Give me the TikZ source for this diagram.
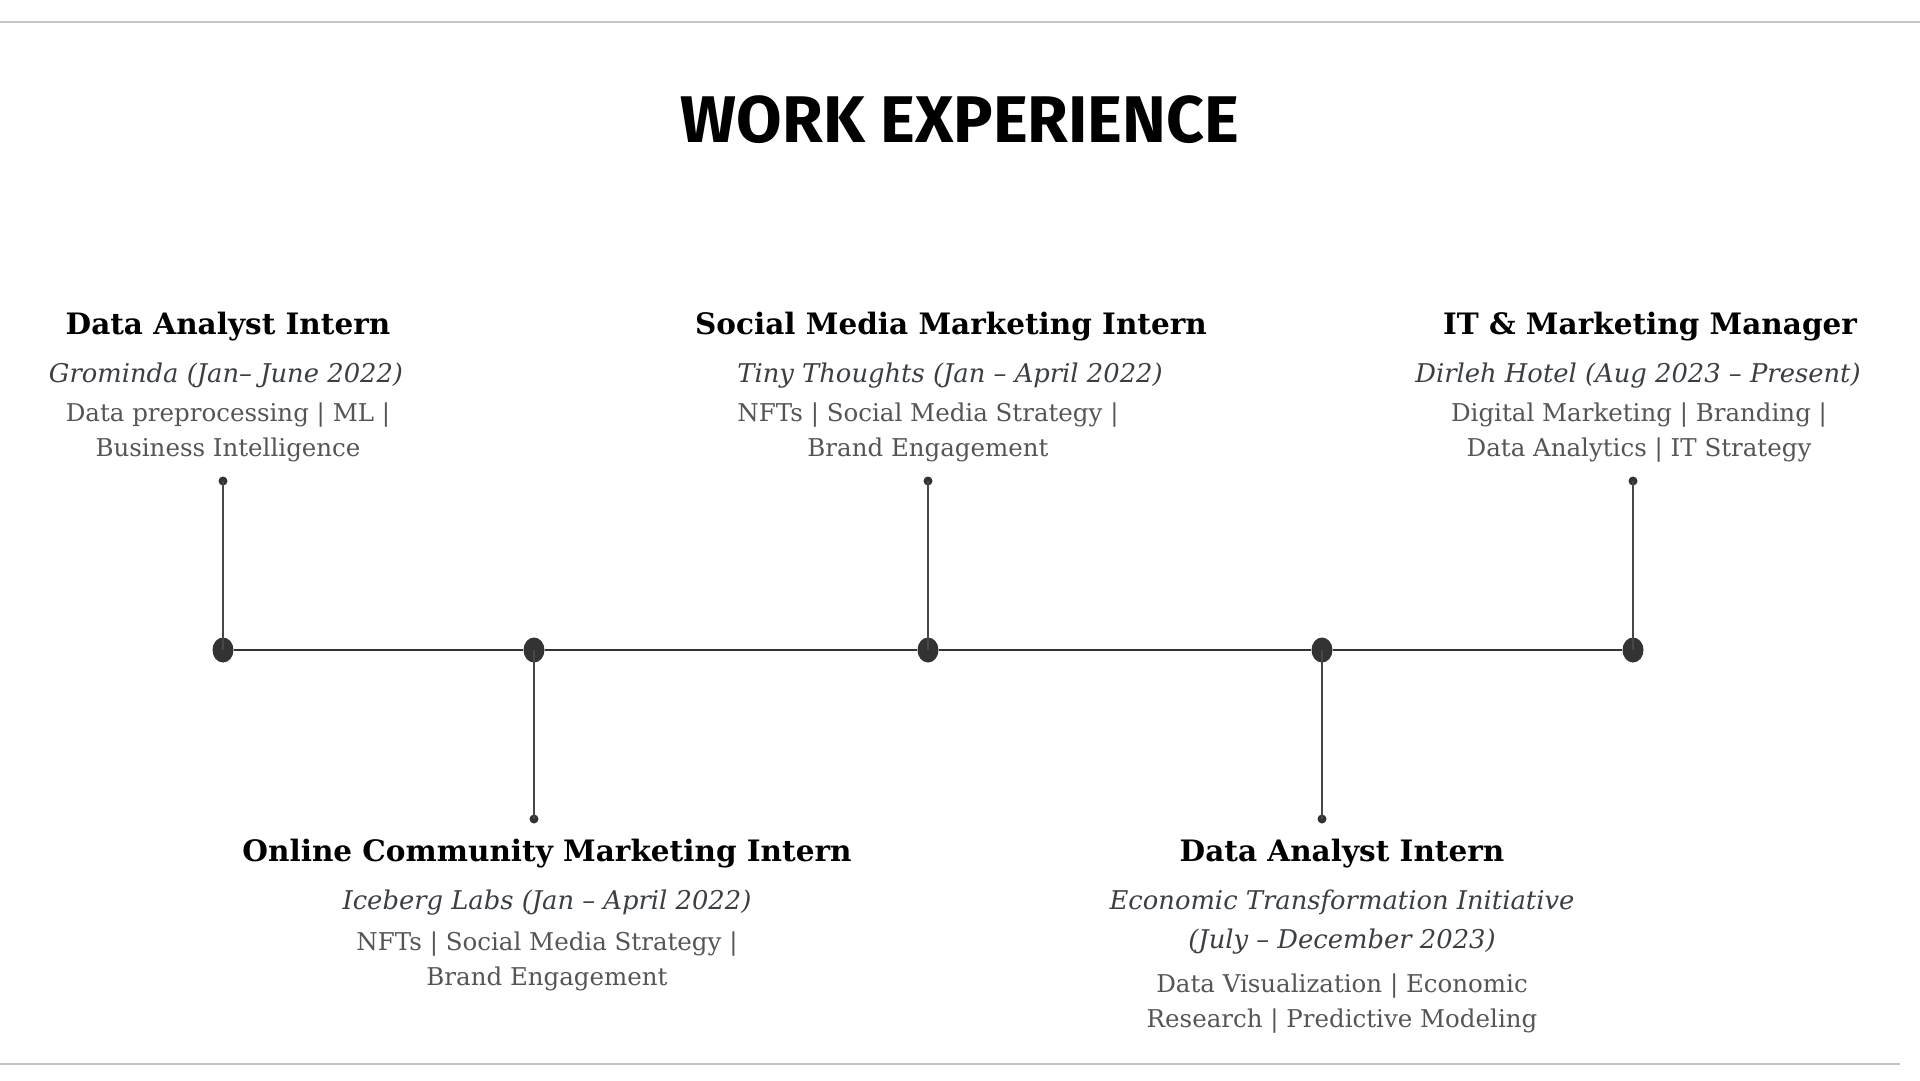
\documentclass[tikz,border=0pt]{standalone}
\usepackage{fontspec}
\usepackage{xcolor}
\usetikzlibrary{shapes.geometric}
\setmainfont{DejaVu Serif}
\newfontfamily\headfont{Fira Sans}
\definecolor{rulegray}{HTML}{C4C4C4}
\definecolor{linedark}{HTML}{333333}
\definecolor{firmgray}{HTML}{3A3F44}
\definecolor{skillgray}{HTML}{555555}

\begin{document}
\begin{tikzpicture}[x=1pt,y=-1pt,
    role/.style={anchor=base,inner sep=0,font=\bfseries\fontsize{29.5}{34}\selectfont},
    firm/.style={anchor=base,inner sep=0,align=center,text=firmgray,font=\itshape\fontsize{25.8}{39}\selectfont},
    skills/.style={anchor=base,inner sep=0,align=center,text=skillgray,font=\fontsize{24.5}{34.5}\selectfont},
    bigdot/.style={ellipse,fill=linedark,inner sep=0,minimum width=21,minimum height=25},
    tipdot/.style={circle,fill=linedark,inner sep=0,minimum size=9}]
      \useasboundingbox (0,0) rectangle (1920,1080);
      % Page rules
      \draw[rulegray,line width=2] (0,22) -- (1920,22);
      \draw[rulegray,line width=2] (0,1064) -- (1900,1064);
      % Heading
      \node[anchor=base,inner sep=0,font=\headfont\bfseries\fontsize{66}{70}\selectfont] (head) at (960,142) {WORK EXPERIENCE};
      % Timeline dots
      \node[bigdot] (d1) at (223,650) {};
      \node[bigdot] (d2) at (534,650) {};
      \node[bigdot] (d3) at (928,650) {};
      \node[bigdot] (d4) at (1322,650) {};
      \node[bigdot] (d5) at (1633,650) {};
      \node[tipdot] (t1) at (223,481) {};
      \node[tipdot] (t2) at (534,819) {};
      \node[tipdot] (t3) at (928,481) {};
      \node[tipdot] (t4) at (1322,819) {};
      \node[tipdot] (t5) at (1633,481) {};
      % Timeline and stems
      \draw[linedark,line width=2] (d1) -- (d2) -- (d3) -- (d4) -- (d5);
      \foreach \i in {1,...,5}
        \draw[linedark!90,line width=2] (d\i.center) -- (t\i.center);
      % Jobs above the line (multi-line nodes sit on their last baseline)
      \node[role] (r1) at (228,334) {Data Analyst Intern};
      \node[firm] (f1) at (226,382) {Grominda (Jan– June 2022)};
      \node[skills] (s1) at (228,456) {Data preprocessing | ML |\\Business Intelligence};
      \node[role] (r3) at (951,334) {Social Media Marketing Intern};
      \node[firm] (f3) at (950,382) {Tiny Thoughts (Jan – April 2022)};
      \node[skills] (s3) at (928,456) {NFTs | Social Media Strategy |\\Brand Engagement};
      \node[role] (r5) at (1650,334) {IT \& Marketing Manager};
      \node[firm] (f5) at (1638,382) {Dirleh Hotel (Aug 2023 – Present)};
      \node[skills] (s5) at (1639,456) {Digital Marketing | Branding |\\Data Analytics | IT Strategy};
      % Jobs below the line
      \node[role] (r2) at (547,861) {Online Community Marketing Intern};
      \node[firm] (f2) at (547,909) {Iceberg Labs (Jan – April 2022)};
      \node[skills] (s2) at (547,985) {NFTs | Social Media Strategy |\\Brand Engagement};
      \node[role] (r4) at (1342,861) {Data Analyst Intern};
      \node[firm] (f4) at (1342,948) {Economic Transformation Initiative\\(July – December 2023)};
      \node[skills] (s4) at (1342,1027) {Data Visualization | Economic\\Research | Predictive Modeling};
    \end{tikzpicture}
\end{document}
